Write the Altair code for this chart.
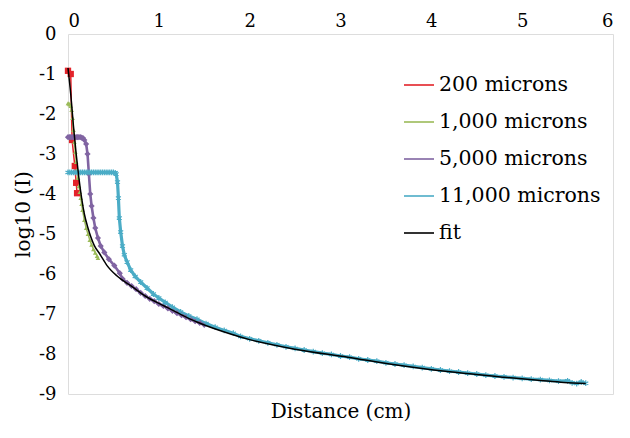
import altair as alt
import pandas as pd

FONT = "DejaVu Serif"

series_names = ["200 microns", "1,000 microns", "5,000 microns", "11,000 microns", "fit"]
series_colors = ["#e3232a", "#9bbb59", "#8064a2", "#4bacc6", "#000000"]

x_ticks = [0, 1, 2, 3, 4, 5, 6]
y_ticks = [0, -1, -2, -3, -4, -5, -6, -7, -8, -9]

red_x = [0.0, 0.03, 0.045, 0.075, 0.09, 0.10]
red_y = [-0.92, -1.0, -2.65, -3.3, -3.72, -3.98]

green_x = [0.0, 0.01, 0.02, 0.03, 0.04, 0.05, 0.06, 0.07, 0.08, 0.09, 0.10, 0.11, 0.12,
           0.13, 0.14, 0.15, 0.16, 0.18, 0.20, 0.22, 0.24, 0.26, 0.28, 0.30, 0.32, 0.33]
green_y = [-1.73, -1.74, -1.76, -1.8, -1.9, -2.1, -2.4, -2.7, -2.95, -3.2, -3.4, -3.6, -3.8,
           -3.95, -4.1, -4.25, -4.4, -4.65, -4.85, -5.0, -5.15, -5.27, -5.38, -5.47, -5.55, -5.6]

purple_x = [0.0, 0.015, 0.03, 0.045, 0.06, 0.075, 0.09, 0.105, 0.12, 0.135, 0.15, 0.165,
            0.18, 0.20, 0.215, 0.23, 0.245, 0.26, 0.28, 0.30, 0.33, 0.36, 0.40, 0.45, 0.51,
            0.57, 0.60, 0.65, 0.70, 0.75, 0.80, 0.85, 0.90, 0.95, 1.00, 1.05, 1.10, 1.15,
            1.20, 1.25, 1.30, 1.35, 1.40, 1.45, 1.50]
purple_y = [-2.58, -2.58, -2.58, -2.58, -2.58, -2.58, -2.58, -2.58, -2.58, -2.58, -2.59, -2.6,
            -2.65, -2.75, -3.0, -3.5, -4.0, -4.3, -4.6, -4.85, -5.1, -5.3, -5.46, -5.63, -5.79,
            -5.98, -6.12, -6.22, -6.3, -6.38, -6.47, -6.55, -6.62, -6.68, -6.75, -6.8, -6.86,
            -6.92, -6.98, -7.03, -7.08, -7.13, -7.18, -7.22, -7.27]

cyan_x = [0.0, 0.02, 0.04, 0.06, 0.08, 0.10, 0.12, 0.14, 0.16, 0.18, 0.20, 0.22, 0.24, 0.26,
          0.28, 0.30, 0.32, 0.34, 0.36, 0.38, 0.40, 0.42, 0.44, 0.46, 0.48, 0.50, 0.52,
          0.53, 0.545, 0.555, 0.565, 0.58, 0.60, 0.62, 0.65, 0.69, 0.74, 0.80, 0.87, 0.94,
          1.00, 1.07, 1.15, 1.24, 1.33, 1.42, 1.52, 1.62, 1.72, 1.82, 1.9, 2.0, 2.1, 2.2,
          2.3, 2.4, 2.5, 2.6, 2.7, 2.8, 2.9, 3.0, 3.1, 3.2, 3.3, 3.4, 3.5, 3.6, 3.7, 3.8,
          3.9, 4.0, 4.1, 4.2, 4.3, 4.4, 4.5, 4.6, 4.7, 4.8, 4.9, 5.0, 5.1, 5.2, 5.3, 5.4,
          5.5, 5.55, 5.6, 5.65, 5.7]
cyan_y = [-3.46, -3.46, -3.46, -3.46, -3.46, -3.46, -3.46, -3.46, -3.46, -3.46, -3.46, -3.46,
          -3.46, -3.46, -3.46, -3.46, -3.46, -3.46, -3.46, -3.46, -3.46, -3.46, -3.46, -3.46,
          -3.46, -3.46, -3.47, -3.5, -3.7, -4.1, -4.6, -4.95, -5.3, -5.52, -5.7, -5.9, -6.06,
          -6.2, -6.35, -6.5, -6.6, -6.71, -6.83, -6.95, -7.05, -7.13, -7.24, -7.33, -7.41,
          -7.48, -7.56, -7.62, -7.67, -7.72, -7.77, -7.82, -7.86, -7.9, -7.94, -7.98, -8.01,
          -8.05, -8.08, -8.12, -8.15, -8.18, -8.22, -8.25, -8.28, -8.31, -8.34, -8.37, -8.4,
          -8.43, -8.45, -8.48, -8.5, -8.53, -8.55, -8.57, -8.59, -8.61, -8.63, -8.64, -8.66,
          -8.68, -8.67, -8.72, -8.74, -8.70, -8.73]

fit_x = [0.0, 0.03, 0.06, 0.09, 0.12, 0.15, 0.18, 0.22, 0.29, 0.35, 0.43, 0.54, 0.69, 0.85,
         1.06, 1.25, 1.42, 1.79, 2.0, 2.5, 3.08, 3.6, 4.18, 4.8, 5.2, 5.46, 5.7]
fit_y = [-0.85, -1.5, -2.3, -3.0, -3.6, -4.1, -4.5, -4.85, -5.29, -5.5, -5.79, -6.05, -6.29,
         -6.55, -6.8, -7.02, -7.2, -7.5, -7.64, -7.88, -8.08, -8.27, -8.44, -8.58, -8.66,
         -8.71, -8.74]

series_data = [(red_x, red_y), (green_x, green_y), (purple_x, purple_y), (cyan_x, cyan_y), (fit_x, fit_y)]

rows = []
for name, (xs, ys) in zip(series_names, series_data):
    for i, (a, b) in enumerate(zip(xs, ys)):
        rows.append({"series": name, "x": a, "y": b, "order": i})
df = pd.DataFrame(rows)

color_scale = alt.Scale(domain=series_names, range=series_colors)
x_scale = alt.Scale(domain=[0, 6], nice=False, zero=False)
y_scale = alt.Scale(domain=[-9, 0], nice=False)

legend = alt.Legend(
    orient="none", legendX=335, legendY=35, title=None,
    symbolType="stroke", symbolSize=900, symbolStrokeWidth=1.6,
    labelFont=FONT, labelFontSize=20.5, labelColor="black", labelOffset=4,
    labelLimit=400, rowPadding=10,
)

y_axis = alt.Axis(
    values=y_ticks, title="log10 (I)", titleFont=FONT, titleFontSize=20,
    titleFontWeight="normal", titleColor="black", titlePadding=5,
    labelFont=FONT, labelFontSize=18, labelColor="black", labelPadding=12,
    labelExpr="datum.value == 0 ? '0' : '-' + abs(datum.value)",
    ticks=False, domain=False, grid=False,
)

top_axis = alt.Axis(
    orient="top", values=x_ticks, title=None, labelFont=FONT, labelFontSize=18,
    labelColor="black", labelPadding=4, ticks=False, domain=False, grid=False,
)
bottom_axis = alt.Axis(
    orient="bottom", title="Distance (cm)", titleFont=FONT, titleFontSize=20,
    titleFontWeight="normal", titleColor="black", titlePadding=7,
    labels=False, ticks=False, domain=False, grid=False,
)

# per-series line width (dense markers in the original make some traces look thicker)
line_specs = [
    ("200 microns", 1.5),
    ("1,000 microns", 1.5),
    ("5,000 microns", 2.6),
    ("11,000 microns", 3.2),
]

layers = []
for k, (name, sw) in enumerate(line_specs):
    sub = df[df.series == name]
    layers.append(alt.Chart(sub).mark_line(strokeWidth=sw).encode(
        x=alt.X("x:Q", scale=x_scale, axis=top_axis if k == 0 else None),
        y=alt.Y("y:Q", scale=y_scale, axis=y_axis),
        color=alt.Color("series:N", scale=color_scale, legend=legend),
        order="order:Q",
    ))

marker_specs = [
    ("200 microns", "square", 40, True),
    ("1,000 microns", "triangle-up", 22, True),
    ("5,000 microns", "diamond", 38, True),
    ("11,000 microns", "M0,-1L0,1M-0.87,-0.5L0.87,0.5M-0.87,0.5L0.87,-0.5", 34, False),
]

for k, (name, shape, size, filled) in enumerate(marker_specs):
    col = series_colors[series_names.index(name)]
    sub = df[df.series == name]
    if filled:
        mk = alt.Chart(sub).mark_point(shape=shape, size=size, filled=True, fill=col, opacity=1, strokeWidth=0)
    else:
        mk = alt.Chart(sub).mark_point(shape=shape, size=size, filled=False, stroke=col, strokeWidth=1.2, opacity=1)
    layers.append(mk.encode(
        x=alt.X("x:Q", scale=x_scale, axis=bottom_axis if k == 0 else None),
        y=alt.Y("y:Q", scale=y_scale, axis=y_axis),
    ))

fit_df = df[df.series == "fit"]
layers.append(alt.Chart(fit_df).mark_line(strokeWidth=1.5, interpolate="monotone").encode(
    x=alt.X("x:Q", scale=x_scale, axis=None),
    y=alt.Y("y:Q", scale=y_scale, axis=y_axis),
    color=alt.Color("series:N", scale=color_scale, legend=legend),
    order="order:Q",
))

chart = alt.layer(*layers).resolve_axis(x="independent").properties(
    width=545, height=360,
    padding={"left": 5, "top": 4, "right": 5, "bottom": 5},
).configure_view(stroke="black", strokeWidth=2).configure(background="white")

chart.save("out.html", embed_options={"renderer": "svg", "actions": False})
